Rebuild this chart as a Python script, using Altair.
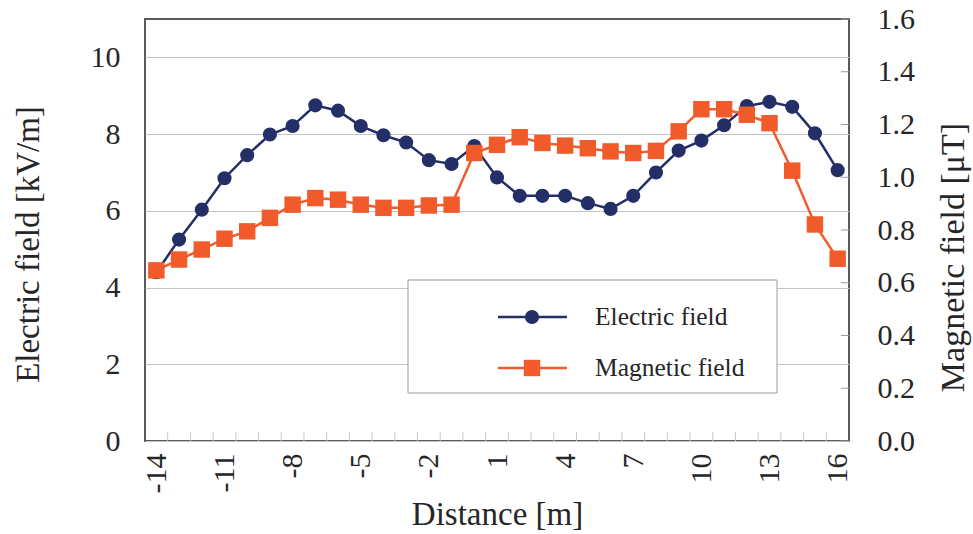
import altair as alt
import pandas as pd

# ---------------- data ----------------
distance = list(range(-14, 17))
electric = [4.4, 5.25, 6.03, 6.85, 7.45, 7.99, 8.21, 8.75, 8.61, 8.21, 7.97, 7.78, 7.32, 7.22, 7.69,
            6.87, 6.39, 6.39, 6.39, 6.20, 6.05, 6.39, 7.0, 7.57, 7.83, 8.23, 8.73, 8.84, 8.71, 8.02, 7.06]
magnetic = [0.647, 0.688, 0.726, 0.767, 0.795, 0.846, 0.896, 0.921, 0.915, 0.896, 0.884, 0.884, 0.893, 0.896, 1.092,
            1.123, 1.152, 1.13, 1.12, 1.11, 1.098, 1.092, 1.10, 1.174, 1.258, 1.258, 1.237, 1.205, 1.025, 0.821, 0.691]
x_labels = [-14, -11, -8, -5, -2, 1, 4, 7, 10, 13, 16]
x_minor = [v + 0.5 for v in range(-14, 16)]          # category boundaries (tick marks)
left_ticks = [0, 2, 4, 6, 8, 10]
right_ticks = [0.0, 0.2, 0.4, 0.6, 0.8, 1.0, 1.2, 1.4, 1.6]
legend_labels = ["Electric field", "Magnetic field"]

# ---------------- style ----------------
W, H = 704, 422
FONT = "Liberation Serif"
TXT = "#262626"
NAVY = "#232f66"
ORANGE = "#f15a2b"

df = pd.DataFrame({"x": distance, "E": electric, "M": magnetic})

xenc = alt.X(
    "x:Q",
    scale=alt.Scale(domain=[-14.5, 16.5], nice=False, zero=False),
    axis=alt.Axis(values=x_labels, title="Distance [m]", labelAngle=270, labelAlign="right",
                  labelBaseline="middle", labelPadding=12, ticks=False, domain=False, grid=False,
                  labelExpr="'' + datum.value",
                  labelFontSize=30, titleFontSize=33, titleY=83, titleBaseline="alphabetic",
                  labelFont=FONT, titleFont=FONT, labelColor=TXT, titleColor=TXT,
                  titleFontWeight="normal", labelOverlap=False),
)
yE = alt.Y(
    "E:Q",
    scale=alt.Scale(domain=[0, 11], nice=False, zero=True),
    axis=alt.Axis(values=left_ticks, orient="left", title="Electric field [kV/m]", grid=True,
                  gridColor="#c4c4c4", gridWidth=1, ticks=False, domain=False, labelPadding=25,
                  labelFontSize=30, titleFontSize=33, labelFont=FONT, titleFont=FONT,
                  labelColor=TXT, titleColor=TXT, titleFontWeight="normal", titleAngle=270,
                  titleX=-117, titleY=225, titleBaseline="middle", titleAlign="center"),
)
yM = alt.Y(
    "M:Q",
    scale=alt.Scale(domain=[0, 1.6], nice=False, zero=True),
    axis=alt.Axis(values=right_ticks, format=".1f", orient="right", title="Magnetic field  [μT]",
                  grid=False, ticks=False, domain=False, labelPadding=28, labelAlign="left",
                  labelFontSize=30, titleFontSize=34, labelFont=FONT, titleFont=FONT,
                  labelColor=TXT, titleColor=TXT, titleFontWeight="normal", titleAngle=270,
                  titleX=104, titleY=238, titleBaseline="middle", titleAlign="center"),
)

base = alt.Chart(df)
e_line = base.mark_line(color=NAVY, strokeWidth=2.5).encode(x=xenc, y=yE)
e_pts = base.mark_point(shape="circle", filled=True, size=200, color=NAVY, opacity=1).encode(x=xenc, y=yE)
m_line = base.mark_line(color=ORANGE, strokeWidth=2.5).encode(x=xenc, y=yM)
m_pts = base.mark_point(shape="square", filled=True, size=270, color=ORANGE, opacity=1).encode(x=xenc, y=yM)

x_ticks = alt.Chart(pd.DataFrame({"x": x_minor})).mark_rule(color="#c8c8c8", strokeWidth=1).encode(
    x=xenc, y=alt.value(H), y2=alt.value(H - 9))
m_ticks = alt.Chart(pd.DataFrame({"M": right_ticks})).mark_rule(color="#9a9a9a", strokeWidth=1).encode(
    y=yM, x=alt.value(W - 8), x2=alt.value(W))

# ---------------- legend ----------------
one = pd.DataFrame({"a": [0]})
leg_box = alt.Chart(one).mark_rect(fill="white", stroke="#9a9a9a", strokeWidth=1).encode(
    x=alt.value(263), x2=alt.value(632), y=alt.value(261), y2=alt.value(374))
leg_layers = [leg_box]
for lab, col, shp, sz, yy in [(legend_labels[0], NAVY, "circle", 200, 298),
                              (legend_labels[1], ORANGE, "square", 270, 349)]:
    leg_layers.append(alt.Chart(one).mark_rule(color=col, strokeWidth=2.5).encode(
        x=alt.value(353), x2=alt.value(422), y=alt.value(yy)))
    leg_layers.append(alt.Chart(one).mark_point(shape=shp, filled=True, size=sz, color=col, opacity=1).encode(
        x=alt.value(387), y=alt.value(yy)))
    leg_layers.append(alt.Chart(one).mark_text(font=FONT, fontSize=25.5, color=TXT, align="left",
                                                baseline="middle").encode(
        x=alt.value(450), y=alt.value(yy), text=alt.value(lab)))

left = alt.layer(x_ticks, e_line, e_pts, *leg_layers)
right = alt.layer(m_line, m_pts, m_ticks)

chart = alt.layer(left, right).resolve_scale(y="independent").properties(
    width=W, height=H,
    autosize=alt.AutoSizeParams(type="none"),
    padding={"left": 145, "top": 19, "right": 124, "bottom": 93},
    background="white",
).configure_view(stroke="#5a5a5a", strokeWidth=2)

chart.save("out.html", embed_options={"renderer": "svg", "actions": False})
